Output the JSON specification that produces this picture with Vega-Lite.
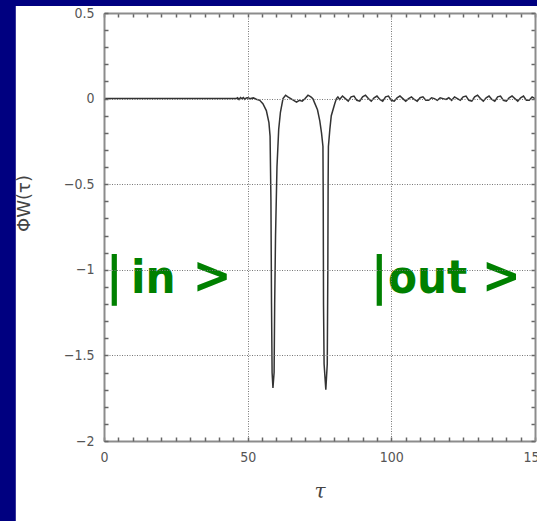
{
  "$schema": "https://vega.github.io/schema/vega-lite/v6.json",
  "width": 431,
  "height": 428,
  "autosize": {"type": "none"},
  "padding": {"left": 104, "top": 13, "right": 2, "bottom": 80},
  "background": "#000080",
  "config": {
    "view": {"stroke": null},
    "axis": {
      "labelFont": "Liberation Sans Narrow, DejaVu Sans Condensed, sans-serif",
      "labelFontSize": 14,
      "labelColor": "#555555",
      "labelFlush": false,
      "labelOverlap": false,
      "tickColor": "#666666",
      "tickWidth": 1.5,
      "tickSize": -4,
      "domainColor": "#8c8c8c",
      "domainWidth": 2,
      "gridColor": "#777777",
      "gridDash": [1, 1.5],
      "gridWidth": 1,
      "titleColor": "#444444"
    }
  },
  "datasets": {
    "curve": [
      {"t": 0, "phi": 0}, {"t": 46, "phi": 0}, {"t": 46.5, "phi": 0.005}, {"t": 47, "phi": -0.005},
      {"t": 47.5, "phi": 0.006}, {"t": 48, "phi": 0}, {"t": 48.5, "phi": 0.006}, {"t": 49, "phi": -0.004},
      {"t": 49.5, "phi": 0.004}, {"t": 50, "phi": 0.005}, {"t": 51, "phi": 0}, {"t": 52, "phi": 0.004},
      {"t": 53, "phi": -0.004}, {"t": 54.2, "phi": -0.01}, {"t": 55.3, "phi": -0.03}, {"t": 56.5, "phi": -0.07},
      {"t": 57.4, "phi": -0.14}, {"t": 57.8, "phi": -0.22}, {"t": 58.1, "phi": -0.6}, {"t": 58.3, "phi": -1.2},
      {"t": 58.5, "phi": -1.6}, {"t": 58.8, "phi": -1.69}, {"t": 59.2, "phi": -1.6}, {"t": 59.4, "phi": -1.2},
      {"t": 59.7, "phi": -0.8}, {"t": 60.2, "phi": -0.4}, {"t": 60.8, "phi": -0.18}, {"t": 61.4, "phi": -0.08},
      {"t": 62.3, "phi": 0}, {"t": 63.2, "phi": 0.02}, {"t": 64, "phi": 0.01}, {"t": 65, "phi": 0},
      {"t": 66, "phi": -0.01}, {"t": 67, "phi": -0.02}, {"t": 68, "phi": -0.01}, {"t": 69, "phi": -0.015},
      {"t": 70, "phi": 0}, {"t": 71, "phi": 0.02}, {"t": 72, "phi": 0.01}, {"t": 72.7, "phi": 0},
      {"t": 73.3, "phi": -0.025}, {"t": 74.3, "phi": -0.065}, {"t": 75.1, "phi": -0.13}, {"t": 75.7, "phi": -0.2},
      {"t": 76.2, "phi": -0.28}, {"t": 76.3, "phi": -0.6}, {"t": 76.4, "phi": -1.2}, {"t": 76.6, "phi": -1.55},
      {"t": 77.2, "phi": -1.7}, {"t": 77.7, "phi": -1.55}, {"t": 77.9, "phi": -1.0}, {"t": 78.0, "phi": -0.5},
      {"t": 78.1, "phi": -0.28}, {"t": 78.6, "phi": -0.18}, {"t": 79.1, "phi": -0.1}, {"t": 80.3, "phi": -0.03},
      {"t": 80.9, "phi": 0}, {"t": 81.4, "phi": 0.01}, {"t": 82, "phi": -0.005}, {"t": 83, "phi": 0.015},
      {"t": 84, "phi": 0}, {"t": 85, "phi": -0.015}, {"t": 86, "phi": 0.01}, {"t": 87, "phi": 0.015},
      {"t": 88, "phi": -0.01}, {"t": 89, "phi": -0.015}, {"t": 90, "phi": 0.01}, {"t": 91, "phi": 0.02},
      {"t": 92, "phi": 0}, {"t": 93, "phi": -0.015}, {"t": 94, "phi": 0.005}, {"t": 95, "phi": 0.015},
      {"t": 96, "phi": -0.005}, {"t": 97, "phi": -0.015}, {"t": 98, "phi": 0.01}, {"t": 99, "phi": 0.015},
      {"t": 100, "phi": -0.01}, {"t": 101, "phi": -0.015}, {"t": 102, "phi": 0.005}, {"t": 103, "phi": 0.015},
      {"t": 104, "phi": 0}, {"t": 105, "phi": -0.015}, {"t": 106, "phi": 0}, {"t": 107, "phi": 0.01},
      {"t": 108, "phi": -0.005}, {"t": 109, "phi": -0.015}, {"t": 110, "phi": 0.005}, {"t": 111, "phi": 0.01},
      {"t": 112, "phi": -0.01}, {"t": 113, "phi": -0.01}, {"t": 114, "phi": 0.005}, {"t": 115, "phi": 0},
      {"t": 116, "phi": -0.01}, {"t": 117, "phi": 0.005}, {"t": 118, "phi": 0}, {"t": 119, "phi": -0.005},
      {"t": 120, "phi": 0.005}, {"t": 121, "phi": -0.01}, {"t": 122, "phi": 0.01}, {"t": 123, "phi": 0},
      {"t": 124, "phi": -0.01}, {"t": 125, "phi": 0.01}, {"t": 126, "phi": 0.015}, {"t": 127, "phi": -0.01},
      {"t": 128, "phi": -0.015}, {"t": 129, "phi": 0.01}, {"t": 130, "phi": 0.02}, {"t": 131, "phi": 0},
      {"t": 132, "phi": -0.015}, {"t": 133, "phi": 0.005}, {"t": 134, "phi": 0.015}, {"t": 135, "phi": -0.005},
      {"t": 136, "phi": -0.015}, {"t": 137, "phi": 0.01}, {"t": 138, "phi": 0.015}, {"t": 139, "phi": -0.01},
      {"t": 140, "phi": -0.015}, {"t": 141, "phi": 0.005}, {"t": 142, "phi": 0.015}, {"t": 143, "phi": 0},
      {"t": 144, "phi": -0.015}, {"t": 145, "phi": 0.005}, {"t": 146, "phi": 0.015}, {"t": 147, "phi": -0.01},
      {"t": 148, "phi": -0.01}, {"t": 149, "phi": 0.01}, {"t": 150, "phi": 0}
    ]
  },
  "layer": [
    {
      "data": {"values": [{}]},
      "mark": {"type": "rect", "color": "white"},
      "encoding": {
        "x": {"datum": -30.7, "type": "quantitative", "scale": {"domain": [0, 150], "nice": false, "zero": false}, "axis": null},
        "x2": {"datum": 160},
        "y": {"datum": 0.541, "type": "quantitative", "scale": {"domain": [-2, 0.5], "nice": false, "zero": false}, "axis": null},
        "y2": {"datum": -2.6}
      }
    },
    {
      "data": {"name": "curve"},
      "mark": {"type": "line", "color": "#333333", "strokeWidth": 1.5, "interpolate": "linear"},
      "encoding": {
        "x": {
          "field": "t", "type": "quantitative",
          "scale": {"domain": [0, 150], "nice": false, "zero": false},
          "axis": {
            "zindex": 1,
            "orient": "bottom", "values": [0, 50, 100, 150], "ticks": false, "grid": true, "domain": true,
            "labelPadding": 9, "title": "τ",
            "titleFont": "DejaVu Serif", "titleFontStyle": "italic", "titleFontWeight": "normal", "titleFontSize": 20,
            "titleBaseline": "alphabetic", "titleY": 56
          }
        },
        "y": {
          "field": "phi", "type": "quantitative",
          "scale": {"domain": [-2, 0.5], "nice": false, "zero": false},
          "axis": {
            "zindex": 1,
            "orient": "left", "values": [-2, -1.5, -1, -0.5, 0, 0.5], "format": "~g", "ticks": false, "grid": true, "domain": true,
            "labelPadding": 10, "title": "ΦW(τ)",
            "titleFont": "DejaVu Sans", "titleFontWeight": "normal", "titleFontSize": 18,
            "titleX": -71, "titleY": 190
          }
        }
      }
    },
    {
      "data": {"name": "curve"},
      "mark": {"type": "line", "opacity": 0},
      "encoding": {
        "x": {
          "field": "t", "type": "quantitative",
          "axis": {
            "zindex": 1,
            "orient": "bottom", "labels": false, "grid": false, "domain": false, "title": null,
            "values": [0,5,10,15,20,25,30,35,40,45,50,55,60,65,70,75,80,85,90,95,100,105,110,115,120,125,130,135,140,145,150]
          }
        },
        "y": {
          "field": "phi", "type": "quantitative",
          "axis": {
            "zindex": 1,
            "orient": "left", "labels": false, "grid": false, "domain": false, "title": null,
            "values": [-2,-1.9,-1.8,-1.7,-1.6,-1.5,-1.4,-1.3,-1.2,-1.1,-1,-0.9,-0.8,-0.7,-0.6,-0.5,-0.4,-0.3,-0.2,-0.1,0,0.1,0.2,0.3,0.4,0.5]
          }
        }
      }
    },
    {
      "data": {"name": "curve"},
      "mark": {"type": "line", "opacity": 0},
      "encoding": {
        "x": {
          "field": "t", "type": "quantitative",
          "axis": {
            "zindex": 1,
            "orient": "top", "labels": false, "grid": false, "domain": true, "title": null,
            "values": [0,5,10,15,20,25,30,35,40,45,50,55,60,65,70,75,80,85,90,95,100,105,110,115,120,125,130,135,140,145,150]
          }
        },
        "y": {
          "field": "phi", "type": "quantitative",
          "axis": {
            "zindex": 1,
            "orient": "right", "labels": false, "grid": false, "domain": true, "title": null,
            "values": [-2,-1.9,-1.8,-1.7,-1.6,-1.5,-1.4,-1.3,-1.2,-1.1,-1,-0.9,-0.8,-0.7,-0.6,-0.5,-0.4,-0.3,-0.2,-0.1,0,0.1,0.2,0.3,0.4,0.5]
          }
        }
      }
    },
    {
      "data": {"values": [
        {"t": 3.6, "phi": -1.136, "label": "|"},
        {"t": 95.8, "phi": -1.136, "label": "|"},
        {"t": 37.6, "phi": -1.136, "label": ">"},
        {"t": 138.3, "phi": -1.136, "label": ">"}
      ]},
      "mark": {"type": "text", "align": "center", "baseline": "alphabetic", "font": "Liberation Sans Narrow, DejaVu Sans Condensed, sans-serif", "fontWeight": "bold", "fontSize": 52, "color": "#008000"},
      "encoding": {
        "x": {"field": "t", "type": "quantitative", "axis": null},
        "y": {"field": "phi", "type": "quantitative", "axis": null},
        "text": {"field": "label"}
      }
    },
    {
      "data": {"values": [
        {"t": 9.4, "phi": -1.136, "label": "in"},
        {"t": 98.8, "phi": -1.136, "label": "out"}
      ]},
      "mark": {"type": "text", "align": "left", "baseline": "alphabetic", "font": "Liberation Sans Narrow, DejaVu Sans Condensed, sans-serif", "fontWeight": "bold", "fontSize": 47, "color": "#008000"},
      "encoding": {
        "x": {"field": "t", "type": "quantitative", "axis": null},
        "y": {"field": "phi", "type": "quantitative", "axis": null},
        "text": {"field": "label"}
      }
    }
  ],
  "resolve": {"axis": {"x": "independent", "y": "independent"}}
}
